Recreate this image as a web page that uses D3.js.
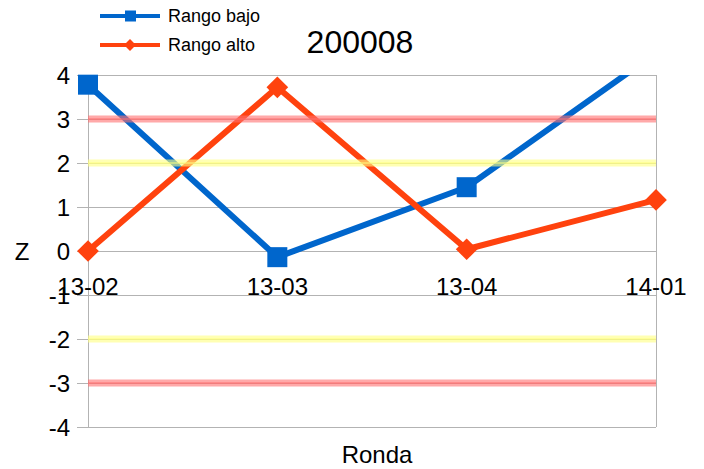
<!DOCTYPE html>
<html>
<head>
<meta charset="utf-8">
<script src="https://cdn.jsdelivr.net/npm/d3@7"></script>
<style>
  body { margin: 0; background: #ffffff; }
  text { font-family: "Liberation Sans", Arial, sans-serif; fill: #000000; }
</style>
</head>
<body>
<div id="content"></div>
<script>
var rounds = ["13-02", "13-03", "13-04", "14-01"];
var rangoBajo = [3.78, -0.14, 1.45, 4.5];
var rangoAlto = [0, 3.72, 0.04, 1.16];
var yTicks = [-4, -3, -2, -1, 0, 1, 2, 3, 4];
var limits = [
  { value: 3, color: "#ff6f6f" },
  { value: -3, color: "#ff6f6f" },
  { value: 2, color: "#ffff80" },
  { value: -2, color: "#ffff80" }
];
var seriesNames = ["Rango bajo", "Rango alto"];
var seriesColors = ["#0066cc", "#ff420e"];

var margin = { top: 75, right: 48, bottom: 42, left: 88 },
  width = 704 - margin.left - margin.right,
  height = 469 - margin.top - margin.bottom;

var svg = d3.select("div#content").append("svg")
  .attr("width", 704)
  .attr("height", 469);

var g = svg.append("g")
  .attr("transform", "translate(" + margin.left + "," + margin.top + ")");

var x = d3.scalePoint().domain(rounds).range([0, width]);
var y = d3.scaleLinear().domain([-4, 4]).range([height, 0]);

g.append("clipPath")
  .attr("id", "plot-clip")
  .append("rect")
  .attr("x", -20).attr("y", -12)
  .attr("width", width + 40).attr("height", height + 24);

// horizontal grid with tick stubs
g.selectAll(".grid")
  .data(yTicks)
  .enter().append("line")
  .attr("class", "grid")
  .attr("x1", -11)
  .attr("x2", width)
  .attr("y1", function(d) { return Math.round(y(d)) + 0.5; })
  .attr("y2", function(d) { return Math.round(y(d)) + 0.5; })
  .attr("stroke", "#b3b3b3")
  .attr("stroke-width", 1);

// left and right frame
g.selectAll(".vframe")
  .data([0, width])
  .enter().append("line")
  .attr("class", "vframe")
  .attr("x1", function(d) { return d + 0.5; })
  .attr("x2", function(d) { return d + 0.5; })
  .attr("y1", 0)
  .attr("y2", height)
  .attr("stroke", "#b3b3b3")
  .attr("stroke-width", 1);

// y tick labels
g.selectAll(".ylab")
  .data(yTicks)
  .enter().append("text")
  .attr("class", "ylab")
  .attr("x", -18)
  .attr("y", function(d) { return y(d); })
  .attr("dy", "0.36em")
  .style("text-anchor", "end")
  .style("font-size", "24px")
  .text(function(d) { return d; });

// category labels
g.selectAll(".xlab")
  .data(rounds)
  .enter().append("text")
  .attr("class", "xlab")
  .attr("x", function(d) { return x(d); })
  .attr("y", y(-1) - 8.5)
  .attr("dy", "0.36em")
  .style("text-anchor", "middle")
  .style("font-size", "24px")
  .text(function(d) { return d; });

var series = [rangoBajo, rangoAlto];

var valueline = d3.line()
  .x(function(d, i) { return x(rounds[i]); })
  .y(function(d) { return y(d); });

var plot = g.append("g").attr("clip-path", "url(#plot-clip)");

g.append("clipPath").attr("id", "line-clip")
  .append("rect")
  .attr("x", -20).attr("y", 0)
  .attr("width", width + 40).attr("height", height);

series.forEach(function(s, k) {
  plot.append("path")
    .datum(s)
    .attr("d", valueline)
    .attr("fill", "none")
    .attr("stroke", seriesColors[k])
    .attr("stroke-width", 6)
    .attr("stroke-linejoin", "round")
    .attr("clip-path", "url(#line-clip)");
});

// markers
var visibleBajo = rangoBajo.filter(function(d) { return d <= 4; });
plot.selectAll(".square")
  .data(visibleBajo)
  .enter().append("rect")
  .attr("class", "square")
  .attr("x", function(d, i) { return x(rounds[i]) - 10; })
  .attr("y", function(d) { return y(d) - 10; })
  .attr("width", 20)
  .attr("height", 20)
  .attr("fill", seriesColors[0]);

var diamond = d3.symbol().type(d3.symbolDiamond2).size(300);
plot.selectAll(".diamond")
  .data(rangoAlto)
  .enter().append("path")
  .attr("class", "diamond")
  .attr("d", diamond)
  .attr("transform", function(d, i) {
    return "translate(" + x(rounds[i]) + "," + y(d) + ")";
  })
  .attr("fill", seriesColors[1]);

// limit bands drawn over the series
limits.forEach(function(l) {
  g.append("line")
    .attr("x1", 0).attr("x2", width)
    .attr("y1", y(l.value)).attr("y2", y(l.value))
    .attr("stroke", l.color)
    .attr("stroke-width", 7)
    .attr("stroke-opacity", 0.6);
  g.append("line")
    .attr("x1", 0).attr("x2", width)
    .attr("y1", y(l.value)).attr("y2", y(l.value))
    .attr("stroke", l.color)
    .attr("stroke-width", 2)
    .attr("stroke-opacity", 0.5);
});

// axis titles
svg.append("text")
  .attr("x", 22)
  .attr("y", y(0) + margin.top)
  .attr("dy", "0.36em")
  .style("text-anchor", "middle")
  .style("font-size", "24px")
  .text("Z");

svg.append("text")
  .attr("x", 377)
  .attr("y", 463)
  .style("text-anchor", "middle")
  .style("font-size", "24px")
  .text("Ronda");

// title
svg.append("text")
  .attr("x", 360)
  .attr("y", 53)
  .style("text-anchor", "middle")
  .style("font-size", "32px")
  .text("200008");

// legend
var legend = svg.append("g");
var legendY = [16, 45];
seriesNames.forEach(function(name, k) {
  legend.append("line")
    .attr("x1", 100).attr("x2", 160)
    .attr("y1", legendY[k]).attr("y2", legendY[k])
    .attr("stroke", seriesColors[k])
    .attr("stroke-width", 4);
  if (k === 0) {
    legend.append("rect")
      .attr("x", 125).attr("y", legendY[k] - 5.5)
      .attr("width", 11).attr("height", 11)
      .attr("fill", seriesColors[k]);
  } else {
    legend.append("path")
      .attr("d", d3.symbol().type(d3.symbolDiamond2).size(90))
      .attr("transform", "translate(130," + legendY[k] + ")")
      .attr("fill", seriesColors[k]);
  }
  legend.append("text")
    .attr("x", 168)
    .attr("y", legendY[k])
    .attr("dy", "0.36em")
    .style("font-size", "18px")
    .text(name);
});
</script>
</body>
</html>
